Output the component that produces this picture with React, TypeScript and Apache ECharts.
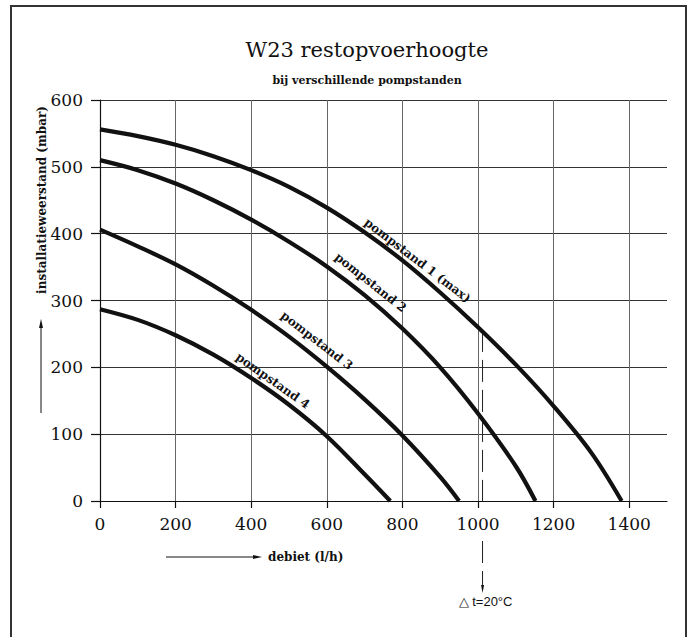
import React, { useEffect, useRef } from "react";
import * as echarts from "echarts";

const flowTicks = [0, 200, 400, 600, 800, 1000, 1200, 1400];

const pomp1Flow = [0, 100, 200, 300, 400, 500, 600, 700, 800, 900, 1000, 1100, 1200, 1300, 1380];
const pomp1Head = [556, 546, 533, 516, 495, 470, 439, 402, 360, 312, 260, 204, 142, 72, 0];

const pomp2Flow = [0, 100, 200, 300, 400, 500, 600, 700, 800, 900, 1000, 1100, 1152];
const pomp2Head = [510, 495, 475, 450, 421, 388, 351, 308, 258, 200, 131, 52, 0];

const pomp3Flow = [0, 100, 200, 300, 400, 500, 600, 700, 800, 900, 950];
const pomp3Head = [406, 381, 354, 322, 286, 246, 201, 152, 98, 36, 0];

const pomp4Flow = [0, 100, 200, 300, 400, 500, 600, 700, 768];
const pomp4Head = [287, 271, 248, 219, 184, 144, 97, 40, 0];

const curveNames = ["pompstand 1 (max)", "pompstand 2", "pompstand 3", "pompstand 4"];
// label anchors in data coordinates [flow, head] and slope angle in degrees
const labelFlow = [840, 716, 574, 457];
const labelHead = [360, 327, 240, 180];
const labelAngle = [37.4, 38.5, 37.8, 35.3];

const deltaFlow = 1012;
const deltaHead = 256;
const deltaText = "\u25B3 t=20\u00B0C";

const titleText = "W23 restopvoerhoogte";
const subtitleText = "bij verschillende pompstanden";
const yName = "installatieweerstand (mbar)";
const xName = "debiet (l/h)";

const SERIF = "'DejaVu Serif', serif";

function zip(xs: number[], ys: number[]) {
  return xs.map((x, i) => [x, ys[i]]);
}

export default function App() {
  const ref = useRef<HTMLDivElement>(null);
  useEffect(() => {
    if (!ref.current) return;
    const chart = echarts.init(ref.current, undefined, { renderer: "svg" });
    const curves = [
      zip(pomp1Flow, pomp1Head),
      zip(pomp2Flow, pomp2Head),
      zip(pomp3Flow, pomp3Head),
      zip(pomp4Flow, pomp4Head),
    ];
    chart.setOption({
      animation: false,
      backgroundColor: "#fff",
      grid: { left: 100, right: 24, top: 100, bottom: 136, containLabel: false },
      xAxis: {
        type: "value",
        min: 0,
        max: 1500,
        interval: 100,
        axisLine: { show: true, lineStyle: { color: "#111", width: 1.2 } },
        axisTick: { show: true, customValues: flowTicks, length: 7, lineStyle: { color: "#111", width: 1.2 } },
        axisLabel: {
          customValues: flowTicks,
          margin: 14,
          fontFamily: SERIF,
          fontSize: 17,
          color: "#111",
          formatter: (v: number) => String(v),
        },
        splitLine: { show: true, lineStyle: { color: "#666", width: 1 } },
      },
      yAxis: {
        type: "value",
        min: 0,
        max: 600,
        interval: 100,
        axisLine: { show: true, lineStyle: { color: "#111", width: 1.2 } },
        axisTick: { show: true, length: 9, lineStyle: { color: "#111", width: 1.2 } },
        axisLabel: { margin: 17, fontFamily: SERIF, fontSize: 17, color: "#111", formatter: (v: number) => String(v) },
        splitLine: { show: true, lineStyle: { color: "#333", width: 1 } },
      },
      series: curves.map((d, i) => ({
        type: "line",
        name: curveNames[i],
        data: d,
        showSymbol: false,
        smooth: 0.35,
        z: 5,
        lineStyle: { color: "#111", width: 4.2 },
      })),
    });

    const toPx = (p: number[]) => chart.convertToPixel({ gridIndex: 0 }, p) as number[];
    const top = toPx([deltaFlow, deltaHead]);
    const axis0 = toPx([deltaFlow, 0]);
    const dx = top[0];
    const axisY = axis0[1];

    const graphics: any[] = [
      {
        type: "rect",
        shape: { x: 11, y: 6, width: 675, height: 660 },
        style: { fill: "none", stroke: "#333", lineWidth: 2 },
        silent: true,
      },
      {
        type: "text",
        x: 367,
        y: 50,
        style: { text: titleText, align: "center", verticalAlign: "middle", font: `normal 21px ${SERIF}`, fill: "#111" },
      },
      {
        type: "text",
        x: 367,
        y: 80,
        style: { text: subtitleText, align: "center", verticalAlign: "middle", font: `bold 11px ${SERIF}`, fill: "#111" },
      },
      {
        type: "text",
        x: 42,
        y: 200,
        rotation: Math.PI / 2,
        style: { text: yName, align: "center", verticalAlign: "middle", font: `bold 12px ${SERIF}`, fill: "#111" },
      },
      {
        type: "line",
        shape: { x1: 41, y1: 413, x2: 41, y2: 326 },
        style: { stroke: "#111", lineWidth: 1 },
      },
      {
        type: "polygon",
        shape: { points: [[41, 319], [39, 328], [43, 328]] },
        style: { fill: "#111" },
      },
      {
        type: "line",
        shape: { x1: 166, y1: 557, x2: 255, y2: 557 },
        style: { stroke: "#111", lineWidth: 1 },
      },
      {
        type: "polygon",
        shape: { points: [[262, 557], [253, 555], [253, 559]] },
        style: { fill: "#111" },
      },
      {
        type: "text",
        x: 268,
        y: 557,
        style: { text: xName, align: "left", verticalAlign: "middle", font: `bold 12px ${SERIF}`, fill: "#111" },
      },
      {
        type: "line",
        shape: { x1: dx, y1: top[1], x2: dx, y2: axisY + 7 },
        style: { stroke: "#222", lineWidth: 1, lineDash: [22, 8] },
      },
      {
        type: "line",
        shape: { x1: dx, y1: axisY + 40, x2: dx, y2: axisY + 88 },
        style: { stroke: "#222", lineWidth: 1, lineDash: [22, 8] },
      },
      {
        type: "polygon",
        shape: { points: [[dx, axisY + 92], [dx - 1.5, axisY + 84], [dx + 1.5, axisY + 84]] },
        style: { fill: "#111" },
      },
      {
        type: "text",
        x: dx + 3,
        y: axisY + 100,
        style: { text: deltaText, align: "center", verticalAlign: "middle", font: `normal 13px 'Liberation Sans', sans-serif`, fill: "#111" },
      },
    ];
    curveNames.forEach((name, i) => {
      const p = toPx([labelFlow[i], labelHead[i]]);
      graphics.push({
        type: "text",
        x: p[0],
        y: p[1],
        rotation: (-labelAngle[i] * Math.PI) / 180,
        z: 10,
        style: { text: name, align: "center", verticalAlign: "middle", font: `bold 12px ${SERIF}`, fill: "#111" },
      });
    });
    chart.setOption({ graphic: graphics });
    return () => chart.dispose();
  }, []);
  return <div ref={ref} style={{ position: "fixed", left: 0, top: 0, width: 691, height: 637 }} />;
}
